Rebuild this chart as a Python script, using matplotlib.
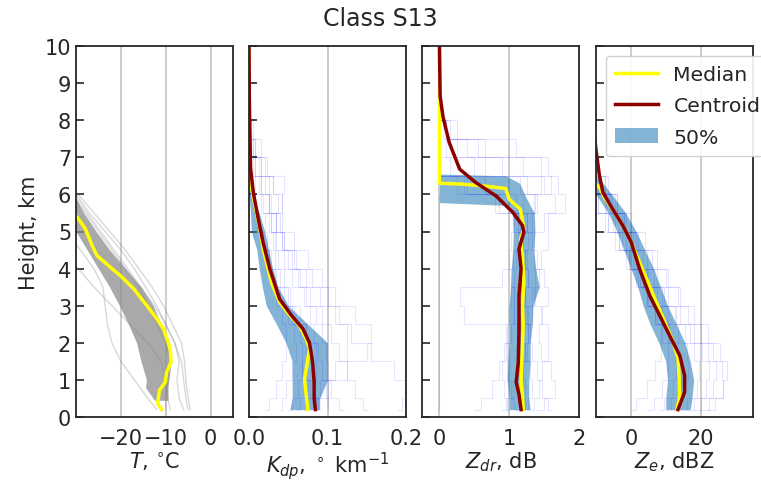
import numpy as np
import matplotlib.pyplot as plt
from matplotlib.patches import Patch
from matplotlib.lines import Line2D

nan = np.nan

# common height grid for individual (faint) profiles, km
H_LINE = [0.2, 0.5, 1.0, 1.5, 2.0, 2.5, 3.0, 3.5, 4.0, 4.5, 5.0, 5.5, 6.0, 6.5, 7.0, 7.5, 8.0]

# ---- Temperature panel
T_MED_H = [0.2, 0.36, 0.72, 0.94, 1.2, 1.48, 1.84, 2.38, 2.65, 3.0, 3.45, 3.81, 4.04, 4.35, 4.62, 5.07, 5.38, 5.5]
T_MED = [-10.9, -11.8, -11.4, -10.1, -9.8, -8.8, -9.0, -10.5, -12.0, -14.2, -17.1, -20.1, -22.4, -25.3, -26.4, -27.9, -29.7, -31]
T_BAND_H = [0.45, 0.8, 1.0, 1.5, 2.0, 2.5, 3.0, 3.5, 4.0, 4.5, 5.0, 5.5, 6.0]
T_LO = [-12.5, -14.5, -14.3, -15.5, -16.5, -18.3, -20.3, -22.5, -25.0, -27.5, -30.0, -31, -31]
T_HI = [-9.5, -9.5, -9.3, -8.8, -9.8, -11.0, -12.8, -15.5, -19.0, -22.5, -25.5, -28.3, -30.5]
T_LINES = [
    [-4.5, -5.0, -5.5, -5.8, -6.5, -8.5, -10.5, -13.0, -16.0, -19.0, -22.5, -26.0, -29.5, -33, nan, nan, nan],
    [-12.0, -14.0, -17.0, -20.0, -22.0, -23.0, -23.5, -24.0, -26.0, -29.0, -32.0, nan, nan, nan, nan, nan, nan],
    [-9.0, -9.5, -10.0, -11.0, -14.0, -18.0, -22.0, -26.0, -29.5, -33.0, nan, nan, nan, nan, nan, nan, nan],
    [-6.0, -7.0, -7.5, -7.0, -8.0, -10.0, -12.5, -15.5, -18.5, -21.5, -24.5, -27.5, -30.5, -33, nan, nan, nan],
    [-10.0, -10.0, -9.5, -9.0, -10.0, -12.0, -14.0, -16.0, -19.0, -22.0, -25.0, -28.0, -31.0, nan, nan, nan, nan],
    [-5.0, -5.5, -6.0, -6.5, -8.0, -10.0, -12.0, -14.5, -17.0, -20.0, -23.5, -27.0, -30.0, -32, nan, nan, nan],
]

# ---- Kdp panel
KDP_MED_H = [0.2, 0.76, 1.03, 1.39, 1.84, 2.1, 2.47, 2.74, 3.09, 3.63, 3.99, 4.53, 5.07, 5.7, 6.32, 6.7, 10.0]
KDP_MED = [0.075, 0.072, 0.0707, 0.0737, 0.077, 0.073, 0.064, 0.052, 0.039, 0.0286, 0.0244, 0.018, 0.0139, 0.0076, 0.002, 0.0004, 0.0]
KDP_CEN_H = [0.2, 0.49, 0.94, 1.48, 2.0, 2.38, 2.74, 3.18, 3.99, 4.7, 5.34, 6.05, 6.7, 7.76, 8.65, 10.0]
KDP_CEN = [0.0846, 0.083, 0.083, 0.081, 0.077, 0.0686, 0.054, 0.039, 0.0265, 0.018, 0.0118, 0.0055, 0.002, 0.001, 0.0004, 0.0]
KDP_BAND_H = [0.2, 0.5, 1.0, 1.5, 2.0, 2.5, 3.0, 3.5, 4.0, 4.5, 5.0, 5.5, 6.0, 6.3]
KDP_LO = [0.052, 0.055, 0.055, 0.055, 0.047, 0.035, 0.022, 0.017, 0.013, 0.010, 0.003, 0.002, 0.0, 0.0]
KDP_HI = [0.09, 0.09, 0.10, 0.10, 0.10, 0.075, 0.05, 0.037, 0.03, 0.025, 0.02, 0.013, 0.004, 0.0]
KDP_LINES = [
    [0.19, 0.2, 0.2, 0.17, 0.14, 0.12, 0.1, 0.08, 0.065, 0.05, 0.035, 0.02, 0.01, 0.005, 0.0, nan, nan],
    [0.07, 0.08, 0.1, 0.12, 0.13, 0.12, 0.11, 0.09, 0.07, 0.05, 0.04, 0.03, 0.02, 0.01, 0.005, 0.0, nan],
    [0.04, 0.045, 0.05, 0.06, 0.06, 0.055, 0.045, 0.035, 0.03, 0.02, 0.015, 0.01, 0.005, 0.0, nan, nan, nan],
    [0.1, 0.1, 0.095, 0.09, 0.085, 0.08, 0.075, 0.07, 0.06, 0.05, 0.04, 0.03, 0.025, 0.015, 0.01, 0.005, 0.0],
    [0.02, 0.03, 0.04, 0.045, 0.05, 0.045, 0.04, 0.03, 0.03, 0.025, 0.02, 0.02, 0.03, 0.02, 0.01, 0.005, 0.0],
    [0.15, 0.14, 0.13, 0.12, 0.11, 0.1, 0.085, 0.07, 0.055, 0.045, 0.04, 0.045, 0.04, 0.02, 0.01, 0.0, nan],
    [0.06, 0.07, 0.08, 0.09, 0.08, 0.065, 0.05, 0.04, 0.03, 0.02, 0.012, 0.008, 0.004, 0.0, nan, nan, nan],
    [0.12, 0.11, 0.1, 0.1, 0.095, 0.09, 0.08, 0.06, 0.05, 0.04, 0.03, 0.02, 0.015, 0.01, 0.005, 0.0, nan],
    [0.09, 0.085, 0.07, 0.065, 0.07, 0.06, 0.05, 0.05, 0.04, 0.035, 0.03, 0.025, 0.06, 0.03, 0.01, 0.0, nan],
    [0.05, 0.06, 0.065, 0.07, 0.075, 0.07, 0.06, 0.045, 0.035, 0.03, 0.03, 0.04, 0.035, 0.025, 0.02, 0.01, 0.0],
    [0.08, 0.09, 0.11, 0.14, 0.16, 0.15, 0.12, 0.1, 0.085, 0.065, 0.05, 0.03, 0.02, 0.01, 0.0, nan, nan],
]

# ---- Zdr panel
ZDR_MED_H = [0.2, 0.58, 0.94, 1.48, 2.5, 3.0, 3.63, 4.35, 4.8, 5.07, 5.6, 5.87, 6.16, 6.24, 6.28, 6.3, 10.0]
ZDR_MED = [1.2, 1.19, 1.17, 1.18, 1.2, 1.19, 1.21, 1.19, 1.16, 1.21, 1.16, 1.0, 0.95, 0.57, 0.3, 0.0, 0.0]
ZDR_CEN_H = [0.2, 0.6, 0.94, 1.48, 2.38, 3.27, 3.99, 4.53, 4.98, 5.16, 5.52, 5.96, 6.32, 6.68, 7.4, 8.1, 8.65, 10.0]
ZDR_CEN = [1.17, 1.14, 1.10, 1.13, 1.14, 1.14, 1.17, 1.14, 1.21, 1.19, 1.05, 0.81, 0.52, 0.29, 0.14, 0.05, 0.01, 0.0]
ZDR_BAND_H = [0.2, 0.5, 1.0, 1.5, 2.0, 2.5, 3.0, 3.5, 4.0, 4.5, 5.0, 5.5, 5.7, 5.78, 6.0, 6.3, 6.5, 6.55]
ZDR_LO = [1.0, 1.0, 0.97, 0.98, 1.0, 1.0, 1.0, 1.02, 1.03, 1.05, 1.06, 1.05, 1.0, 0.0, 0.0, 0.0, 0.0, 0.0]
ZDR_HI = [1.3, 1.28, 1.28, 1.3, 1.3, 1.33, 1.34, 1.43, 1.38, 1.35, 1.37, 1.36, 1.3, 1.28, 1.22, 1.15, 0.95, 0.0]
ZDR_LINES = [
    [1.1, 1.2, 1.15, 1.2, 1.3, 1.25, 1.2, 1.25, 1.3, 1.2, 1.2, 1.1, 0.5, 0.0, 0.0, 0.0, nan],
    [1.3, 1.4, 1.45, 1.5, 1.6, 1.5, 1.4, 1.35, 1.4, 1.5, 1.6, 1.5, 1.8, 1.2, 0.6, 0.2, 0.0],
    [1.0, 0.95, 0.9, 0.9, 0.95, 1.0, 1.0, 1.05, 1.1, 1.1, 1.15, 1.2, 1.0, 0.3, 0.0, 0.0, nan],
    [0.5, 0.7, 0.8, 0.9, 1.0, 1.05, 1.1, 1.05, 1.0, 1.0, 1.05, 1.1, 1.6, 0.9, 0.4, 0.1, 0.0],
    [1.6, 1.5, 1.45, 1.35, 1.3, 1.3, 1.25, 1.2, 1.2, 1.15, 1.15, 1.1, 1.3, 1.9, 1.0, 0.3, 0.0],
    [1.2, 1.25, 1.2, 1.2, 1.15, 1.2, 1.3, 1.4, 1.45, 1.35, 1.3, 1.2, 0.8, 0.0, 0.0, nan, nan],
    [1.1, 1.05, 1.0, 0.95, 1.0, 0.9, -0.2, 0.8, 1.0, 1.1, 1.2, 1.3, 1.5, 0.8, 0.2, 0.0, nan],
    [1.4, 1.6, 1.7, 1.5, 1.4, 1.45, 1.5, 1.6, 1.4, 1.3, 1.4, 1.6, 2.0, 1.4, 1.7, 0.5, 0.0],
    [0.0, 0.0, 0.0, 0.0, 0.0, 0.0, 0.0, 0.0, 0.0, 0.0, 0.0, 0.0, 0.0, nan, nan, nan, nan],
    [1.25, 1.3, 1.35, 1.25, 1.2, 1.1, 1.05, 1.1, 1.2, 1.25, 1.3, 1.35, 1.4, 1.5, 0.9, 0.2, 0.0],
    [0.9, 1.0, 1.1, 1.2, 1.25, 1.3, 1.35, 1.3, 1.25, 1.2, 1.1, 1.0, 0.7, 0.0, 0.0, nan, nan],
]

# ---- Ze panel
ZE_MED_H = [0.2, 0.58, 1.12, 1.57, 2.02, 2.56, 3.09, 3.63, 4.17, 4.71, 5.16, 5.52, 5.92, 6.19, 6.28, 6.3]
ZE_MED = [13.2, 14.0, 13.8, 13.5, 12.1, 9.7, 7.3, 4.9, 2.5, 0.1, -2.3, -4.7, -7.6, -9.0, -10.0, -11.0]
ZE_CEN_H = [0.2, 0.67, 1.12, 1.66, 2.1, 2.65, 3.27, 3.99, 4.71, 5.16, 5.6, 6.05, 6.5, 7.04, 7.6, 10.0]
ZE_CEN = [13.5, 15.4, 15.4, 14.0, 11.6, 8.7, 5.4, 2.5, 0.1, -2.3, -5.2, -8.0, -9.0, -9.8, -10.5, -11.0]
ZE_BAND_H = [0.2, 0.5, 1.0, 1.5, 2.0, 2.5, 3.0, 3.5, 4.0, 4.5, 5.0, 5.5, 6.0, 6.3, 6.5]
ZE_LO = [10.0, 10.0, 10.5, 10.0, 8.0, 5.5, 3.5, 2.0, 0.0, -2.0, -4.0, -6.5, -10.0, -11.0, -11.0]
ZE_HI = [17.0, 17.5, 18.0, 17.0, 15.5, 13.0, 10.5, 8.5, 6.5, 4.0, 1.5, -1.5, -5.5, -8.0, -10.0]
ZE_LINES = [
    [18, 22, 25, 24, 20, 16, 12, 9, 6, 3, 0, -3, -6, -9, -12, nan, nan],
    [10, 13, 16, 17, 15, 12, 9, 6, 3, 0, -3, -6, -9, -12, nan, nan, nan],
    [20, 25, 28, 27, 24, 20, 16, 12, 8, 4, 0, -4, -8, -11, nan, nan, nan],
    [5, 8, 10, 11, 10, 8, 6, 3, 1, -2, -5, -8, -11, nan, nan, nan, nan],
    [14, 18, 20, 19, 17, 14, 11, 8, 5, 2, -1, -4, -7, -10, nan, nan, nan],
    [0, 3, 6, 8, 9, 8, 6, 4, 1, -2, -5, -8, -11, nan, nan, nan, nan],
    [22, 26, 27, 25, 22, 18, 15, 12, 9, 6, 2, -2, -6, -9, -11, nan, nan],
    [12, 14, 15, 14, 12, 9, 6, 3, 0, -3, -6, -9, -11, nan, nan, nan, nan],
    [16, 20, 23, 22, 19, 15, 11, 7, 3, 1, -1, -3, -5, -8, -10, -11, nan],
    [8, 11, 13, 13, 12, 10, 8, 5, 2, -1, -4, -6, -8, -9, -10, -11, nan],
]

XLIMS = [(-30, 5), (0, 0.2), (-0.25, 2), (-10, 35)]
XTICKS = [[-20, -10, 0], [0.0, 0.1, 0.2], [0, 1, 2], [0, 20]]
XTICKLABELS = [['−20', '−10', '0'], ['0.0', '0.1', '0.2'], ['0', '1', '2'], ['0', '20']]
XLABELS = [r'$T$, $^{\circ}$C', r'$K_{dp}$, $^\circ$ km$^{-1}$', r'$Z_{dr}$, dB', r'$Z_e$, dBZ']

plt.rcParams['font.family'] = 'DejaVu Sans'
plt.rcParams['font.size'] = 15
plt.rcParams['text.color'] = '#262626'
plt.rcParams['axes.labelcolor'] = '#262626'
plt.rcParams['xtick.color'] = '#262626'
plt.rcParams['ytick.color'] = '#262626'

W, H = 761, 481
fig = plt.figure(figsize=(W / 100, H / 100), dpi=100)
lefts = [76, 249, 422, 596]
axes = [fig.add_axes([l / W, 63 / H, 157 / W, 371 / H]) for l in lefts]

band_c = '#1f77b4'

def faint(ax, lines, color, alpha, lw=0.8):
    for prof in lines:
        ax.plot(prof, H_LINE, color=color, alpha=alpha, lw=lw, drawstyle='steps-mid')

# temperature
ax = axes[0]
for prof in T_LINES:
    ax.plot(prof, H_LINE, color='gray', alpha=0.3, lw=1.0)
ax.fill_betweenx(T_BAND_H, T_LO, T_HI, color='#8c8c8c', alpha=0.75, lw=0)
ax.plot(T_MED, T_MED_H, color='yellow', lw=2.5)

# Kdp
ax = axes[1]
faint(ax, KDP_LINES, 'blue', 0.1)
ax.fill_betweenx(KDP_BAND_H, KDP_LO, KDP_HI, color=band_c, alpha=0.55, lw=0)
ax.plot(KDP_MED, KDP_MED_H, color='yellow', lw=2.5)
ax.plot(KDP_CEN, KDP_CEN_H, color='darkred', lw=2.5)

# Zdr
ax = axes[2]
faint(ax, ZDR_LINES, 'blue', 0.1)
ax.fill_betweenx(ZDR_BAND_H, ZDR_LO, ZDR_HI, color=band_c, alpha=0.55, lw=0)
ax.plot(ZDR_MED, ZDR_MED_H, color='yellow', lw=2.5)
ax.plot(ZDR_CEN, ZDR_CEN_H, color='darkred', lw=2.5)

# Ze
ax = axes[3]
faint(ax, ZE_LINES, 'blue', 0.1)
ax.fill_betweenx(ZE_BAND_H, ZE_LO, ZE_HI, color=band_c, alpha=0.55, lw=0)
ax.plot(ZE_MED, ZE_MED_H, color='yellow', lw=2.5)
ax.plot(ZE_CEN, ZE_CEN_H, color='darkred', lw=2.5)

for i, ax in enumerate(axes):
    ax.set_xlim(*XLIMS[i])
    ax.set_ylim(0, 10)
    ax.set_yticks(range(0, 11))
    ax.set_xticks(XTICKS[i])
    ax.set_xticklabels(XTICKLABELS[i])
    ax.set_xlabel(XLABELS[i], labelpad=1)
    ax.grid(axis='x', color='#c8c8c8', lw=1.3)
    ax.set_axisbelow(True)
    ax.tick_params(axis='y', direction='in', length=6, width=1.2, colors='#262626')
    ax.tick_params(axis='x', direction='in', length=0, pad=8)
    for s in ax.spines.values():
        s.set_color('#262626')
        s.set_linewidth(1.3)
    if i > 0:
        ax.tick_params(axis='y', labelleft=False)

axes[0].set_ylabel('Height, km')

handles = [Line2D([], [], color='yellow', lw=2.5),
           Line2D([], [], color='darkred', lw=2.5),
           Patch(facecolor=band_c, alpha=0.55)]
axes[3].legend(handles, ['Median', 'Centroid', '50%'], loc='upper left',
               bbox_to_anchor=(0.064, 0.973), fontsize=14.7, handlelength=2.1,
               handletextpad=0.75, labelspacing=0.6, borderaxespad=0.0,
               borderpad=0.45, framealpha=0.9)

fig.suptitle('Class S13', y=0.985, fontsize=17)

fig.savefig('out.png', dpi=100)
